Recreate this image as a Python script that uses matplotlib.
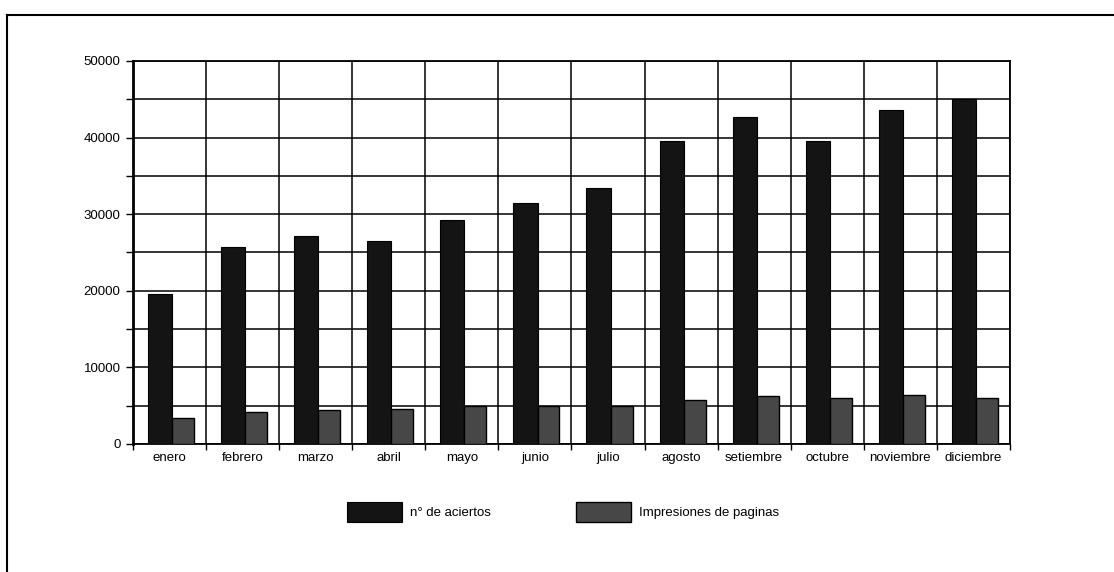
import numpy as np
import matplotlib
matplotlib.use("Agg")
import matplotlib.pyplot as plt
from matplotlib.lines import Line2D
from matplotlib.ticker import MultipleLocator

plt.rcParams['font.family'] = ['Liberation Sans', 'DejaVu Sans']

# Monthly values
meses = ["enero", "febrero", "marzo", "abril", "mayo", "junio", "julio",
         "agosto", "setiembre", "octubre", "noviembre", "diciembre"]
aciertos = [19600, 25700, 27200, 26500, 29300, 31400, 33400,
            39500, 42700, 39600, 43600, 45000]
impresiones = [3400, 4200, 4500, 4600, 5000, 4900, 5000,
               5700, 6300, 6000, 6400, 6000]

fig = plt.figure(figsize=(11.14, 5.72), dpi=100)
ax = fig.add_axes([133 / 1114, 1 - 444 / 572, 877 / 1114, 383 / 572])

x = np.arange(len(meses))
b1 = ax.bar(x + 0.205, aciertos, width=0.33, align="edge",
            color="#141414", edgecolor="black", linewidth=0.8,
            label="n° de aciertos", zorder=3)
b2 = ax.bar(x + 0.535, impresiones, width=0.30, align="edge",
            color="#474747", edgecolor="black", linewidth=1.0,
            label="Impresiones de paginas", zorder=3)

ax.set_xlim(0, len(meses))
ax.set_ylim(0, 50000)
ax.yaxis.set_major_locator(MultipleLocator(10000))
ax.yaxis.set_minor_locator(MultipleLocator(5000))
ax.set_xticks(np.arange(len(meses) + 1))
ax.set_xticklabels([])
ax.set_xticks(x + 0.5, minor=True)
ax.set_xticklabels(meses, minor=True, fontsize=9.5)
ax.tick_params(axis="x", which="minor", length=0, pad=6)
ax.tick_params(axis="x", which="major", length=4, width=1, direction="out")
ax.tick_params(axis="y", which="both", length=5, width=1, labelsize=9.5, pad=4)

ax.grid(True, which="both", axis="y", color="black", linewidth=1.1, zorder=1)
ax.grid(True, which="major", axis="x", color="black", linewidth=1.1, zorder=1)
for s in ax.spines.values():
    s.set_linewidth(1.3)
ax.spines["left"].set_linewidth(2)

fig.legend(handles=[b1, b2], loc="center left",
           bbox_to_anchor=(347 / 1114, 1 - 512 / 572), ncol=2,
           frameon=False, fontsize=9.5, handlelength=4.2, handleheight=2.0,
           handletextpad=0.6, columnspacing=6.4, borderpad=0,
           borderaxespad=0)

# scanned page frame
fig.add_artist(Line2D([7 / 1114, 1], [1 - 15 / 572] * 2, color="black",
                      linewidth=1.5, transform=fig.transFigure))
fig.add_artist(Line2D([7 / 1114] * 2, [0, 1 - 15 / 572], color="black",
                      linewidth=1.5, transform=fig.transFigure))

fig.savefig("out.png", dpi=100)
